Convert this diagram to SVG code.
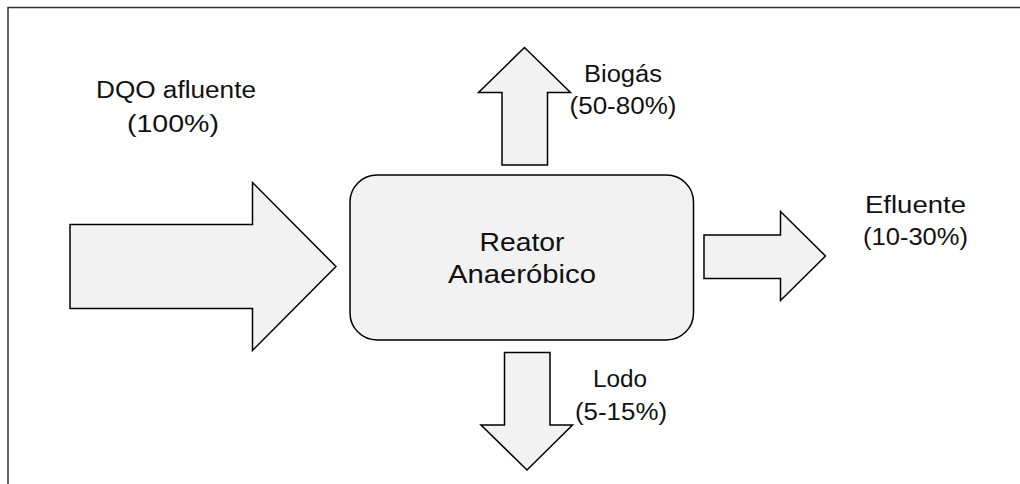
<svg xmlns="http://www.w3.org/2000/svg" width="1020" height="484" viewBox="0 0 1020 484">
<style>
.shape{fill:#f2f2f2;stroke:#000;stroke-width:1.5;stroke-linejoin:miter}
.lbl{font-family:"Liberation Sans",Arial,sans-serif;font-size:23px;fill:#111;text-anchor:middle}
.big{font-size:26px}
</style>
<rect width="1020" height="484" fill="#fff"/>
<path d="M8,490 V7.5 H1030" fill="none" stroke="#333" stroke-width="1.5"/>
<g id="connectors">
<g id="arrow-in"><polygon class="shape" points="70,224.5 252.5,224.5 252.5,182.5 336,266.5 252.5,350.5 252.5,308.5 70,308.5"/></g>
<g id="arrow-biogas"><polygon class="shape" points="502,165 502,92.5 478.5,92.5 524.5,47.5 570.5,92.5 547.5,92.5 547.5,165"/></g>
<g id="arrow-efluente"><polygon class="shape" points="704,235 780.5,235 780.5,211.5 825.5,256 780.5,300.5 780.5,278.5 704,278.5"/></g>
<g id="arrow-lodo"><polygon class="shape" points="504.5,352.5 550,352.5 550,425 572.5,425 527,470 481,425 504.5,425"/></g>
</g>
<g id="reator">
<rect class="shape" x="350" y="175" width="343.5" height="165" rx="27" ry="27"/>
<text class="lbl big" x="522" y="250.5" textLength="85" lengthAdjust="spacingAndGlyphs">Reator</text>
<text class="lbl big" x="522" y="282.5" textLength="148" lengthAdjust="spacingAndGlyphs">Anaeróbico</text>
</g>
<g id="label-dqo">
<text class="lbl" x="176" y="97.5" textLength="160" lengthAdjust="spacingAndGlyphs">DQO afluente</text>
<text class="lbl" x="173" y="131.5" textLength="92" lengthAdjust="spacingAndGlyphs">(100%)</text>
</g>
<g id="label-biogas">
<text class="lbl" x="623" y="82" textLength="78" lengthAdjust="spacingAndGlyphs">Biogás</text>
<text class="lbl" x="623" y="114" textLength="107" lengthAdjust="spacingAndGlyphs">(50-80%)</text>
</g>
<g id="label-efluente">
<text class="lbl" x="915.5" y="213" textLength="101" lengthAdjust="spacingAndGlyphs">Efluente</text>
<text class="lbl" x="915.5" y="245" textLength="105" lengthAdjust="spacingAndGlyphs">(10-30%)</text>
</g>
<g id="label-lodo">
<text class="lbl" x="620" y="387" textLength="54" lengthAdjust="spacingAndGlyphs">Lodo</text>
<text class="lbl" x="621" y="420" textLength="92" lengthAdjust="spacingAndGlyphs">(5-15%)</text>
</g>
</svg>
